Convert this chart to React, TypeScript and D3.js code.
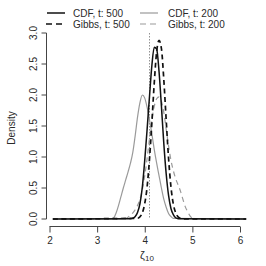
import { useRef, useEffect } from "react";
import * as d3 from "d3";

// density curves (x = zeta_10, y = density)
const cdf500X = [2.07, 3.7, 3.75, 3.8, 3.85, 3.9, 3.95, 4.0, 4.05, 4.1, 4.15, 4.2, 4.25, 4.3, 4.35, 4.4, 4.45, 4.5, 4.55, 4.6, 4.65, 4.7, 6.13];
const cdf500Y = [0, 0.005, 0.015, 0.04, 0.11, 0.25, 0.52, 0.95, 1.45, 1.98, 2.48, 2.77, 2.74, 2.38, 1.82, 1.22, 0.73, 0.38, 0.17, 0.07, 0.02, 0.005, 0];

const gibbs500X = [2.07, 3.85, 3.9, 3.95, 4.0, 4.05, 4.1, 4.15, 4.2, 4.25, 4.3, 4.35, 4.4, 4.45, 4.5, 4.55, 4.6, 4.65, 4.7, 4.75, 4.8, 6.13];
const gibbs500Y = [0, 0.012, 0.036, 0.1, 0.25, 0.52, 0.97, 1.56, 2.2, 2.7, 2.88, 2.75, 2.25, 1.6, 0.98, 0.52, 0.24, 0.1, 0.035, 0.01, 0.003, 0];

const cdf200X = [2.07, 3.3, 3.35, 3.4, 3.45, 3.5, 3.55, 3.6, 3.65, 3.7, 3.75, 3.8, 3.85, 3.9, 3.95, 4.0, 4.05, 4.1, 4.15, 4.2, 4.25, 4.3, 4.35, 4.4, 4.45, 4.5, 4.55, 4.6, 6.13];
const cdf200Y = [0, 0.003, 0.02, 0.1, 0.22, 0.36, 0.5, 0.63, 0.76, 0.9, 1.08, 1.35, 1.65, 1.88, 2.0, 1.95, 1.8, 1.6, 1.37, 1.12, 0.9, 0.7, 0.5, 0.32, 0.19, 0.09, 0.04, 0.01, 0];

const gibbs200X = [2.07, 3.55, 3.6, 3.65, 3.7, 3.75, 3.8, 3.85, 3.9, 3.95, 4.0, 4.05, 4.1, 4.15, 4.2, 4.25, 4.3, 4.35, 4.4, 4.45, 4.5, 4.55, 4.6, 4.65, 4.7, 4.75, 4.8, 4.85, 4.9, 4.95, 5.0, 5.05, 6.13];
const gibbs200Y = [0, 0.003, 0.01, 0.03, 0.06, 0.1, 0.15, 0.22, 0.32, 0.48, 0.7, 0.98, 1.3, 1.6, 1.82, 1.94, 1.97, 1.9, 1.72, 1.45, 1.18, 0.95, 0.78, 0.65, 0.55, 0.45, 0.32, 0.2, 0.12, 0.05, 0.015, 0.003, 0];

const trueValue = 4.1;
const xTicks = [2, 3, 4, 5, 6];
const yTicks = [0, 0.5, 1, 1.5, 2, 2.5, 3];
const legendLabels = ["CDF, t: 500", "Gibbs, t: 500", "CDF, t: 200", "Gibbs, t: 200"];

const GRAY = "#9a9a9a";
const INK = "#2a2a2a";

const App = () => {
  const svgRef = useRef<SVGSVGElement>(null);

  useEffect(() => {
    const svg = d3.select(svgRef.current);
    svg.selectAll("*").remove();
    const font = "Liberation Sans, Arial, Helvetica, sans-serif";

    const x = d3.scaleLinear().domain([2, 6]).range([49.5, 240]);
    const y = d3.scaleLinear().domain([0, 3]).range([219, 33]);

    // y axis (R style, labels rotated)
    const yAxis = d3.axisLeft(y).tickValues(yTicks).tickSize(5).tickFormat(d3.format(".1f"));
    const gy = svg.append("g").attr("transform", "translate(46.5,0)").call(yAxis);
    gy.select(".domain").attr("d", `M0,${y(0)}V${y(3)}`).attr("stroke", "#444");
    gy.selectAll(".tick").attr("transform", null);
    gy.selectAll(".tick line")
      .attr("stroke", "#444")
      .each(function (d: any) {
        d3.select(this).attr("y1", y(d)).attr("y2", y(d));
      });
    gy.selectAll(".tick text")
      .attr("transform", "rotate(-90)")
      .attr("dy", 0)
      .attr("text-anchor", "middle")
      .each(function (d: any) {
        d3.select(this).attr("y", -9.5).attr("x", -y(d));
      })
      .attr("font-size", 10)
      .attr("font-family", font)
      .attr("fill", INK);

    // x axis
    const xAxis = d3.axisBottom(x).tickValues(xTicks).tickSize(6).tickFormat(d3.format("d"));
    const gx = svg.append("g").attr("transform", "translate(0,226.5)").call(xAxis);
    gx.select(".domain").attr("d", `M${x(2)},0H${x(6)}`).attr("stroke", "#444");
    gx.selectAll(".tick line").attr("stroke", "#444");
    gx.selectAll(".tick text")
      .attr("y", 10)
      .attr("font-size", 10)
      .attr("font-family", font)
      .attr("fill", INK);

    // axis titles
    svg.append("text")
      .attr("transform", "translate(15,128) rotate(-90)")
      .attr("text-anchor", "middle")
      .attr("font-size", 10)
      .attr("font-family", font)
      .attr("fill", INK)
      .text("Density");
    const xl = svg.append("text")
      .attr("x", 147)
      .attr("y", 259)
      .attr("text-anchor", "middle")
      .attr("font-size", 11)
      .attr("font-family", font)
      .attr("fill", INK);
    xl.append("tspan").text("ζ");
    xl.append("tspan").attr("font-size", 8).attr("dy", 2).text("10");

    // true value
    svg.append("line")
      .attr("x1", x(trueValue)).attr("x2", x(trueValue))
      .attr("y1", y(3)).attr("y2", y(0))
      .attr("stroke", "#777")
      .attr("stroke-width", 0.8)
      .attr("stroke-dasharray", "1.5,1.5");

    const line = d3.line<[number, number]>()
      .x((d) => x(d[0]))
      .y((d) => y(d[1]))
      .curve(d3.curveMonotoneX);

    const series = [
      { xs: cdf200X, ys: cdf200Y, color: GRAY, dash: null, w: 1.2 },
      { xs: gibbs200X, ys: gibbs200Y, color: GRAY, dash: "5,4", w: 1.2 },
      { xs: cdf500X, ys: cdf500Y, color: "#111", dash: null, w: 1.5 },
      { xs: gibbs500X, ys: gibbs500Y, color: "#111", dash: "5,3.5", w: 1.7 },
    ];
    series.forEach((s) => {
      svg.append("path")
        .datum(s.xs.map((v, i) => [v, s.ys[i]] as [number, number]))
        .attr("d", line)
        .attr("fill", "none")
        .attr("stroke", s.color)
        .attr("stroke-width", s.w)
        .attr("stroke-dasharray", s.dash);
    });

    // legend
    const legend = [
      { label: legendLabels[0], color: "#111", dash: null, w: 1.5, lx: 47, tx: 73, ty: 13 },
      { label: legendLabels[1], color: "#111", dash: "6,4", w: 1.7, lx: 46, tx: 73, ty: 24 },
      { label: legendLabels[2], color: GRAY, dash: null, w: 1.2, lx: 140, tx: 168, ty: 13 },
      { label: legendLabels[3], color: GRAY, dash: "6,4", w: 1.2, lx: 140, tx: 168, ty: 24 },
    ];
    legend.forEach((l) => {
      svg.append("line")
        .attr("x1", l.lx).attr("x2", l.lx + 18)
        .attr("y1", l.ty).attr("y2", l.ty)
        .attr("stroke", l.color)
        .attr("stroke-width", l.w)
        .attr("stroke-dasharray", l.dash);
      svg.append("text")
        .attr("x", l.tx)
        .attr("y", l.ty)
        .attr("dy", "0.35em")
        .attr("font-size", 10)
        .attr("font-family", font)
        .attr("fill", INK)
        .text(l.label);
    });
  }, []);

  return (
    <svg
      ref={svgRef}
      width={266}
      height={266}
      style={{ position: "absolute", left: 0, top: 0, background: "white" }}
    ></svg>
  );
};

export default App;
